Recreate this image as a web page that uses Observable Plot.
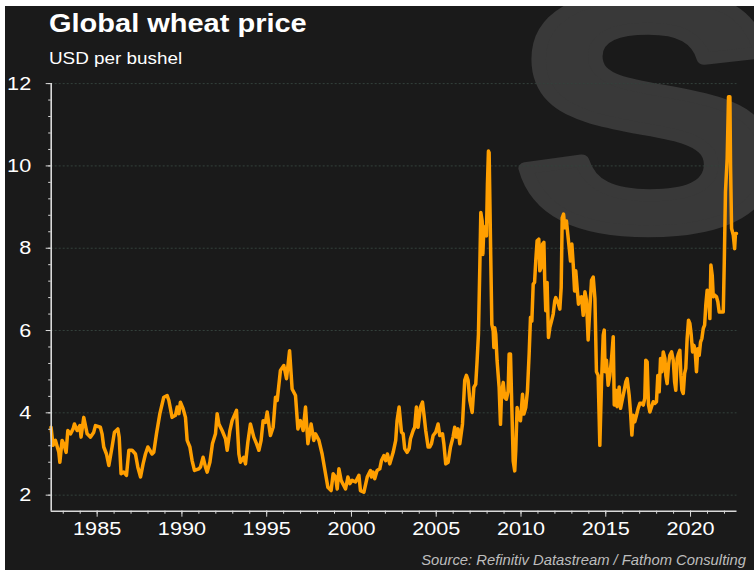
<!DOCTYPE html>
<html><head><meta charset="utf-8">
<script src="https://cdn.jsdelivr.net/npm/d3@7"></script>
<script src="https://cdn.jsdelivr.net/npm/@observablehq/plot@0.6"></script>
<style>
html,body{margin:0;padding:0;background:#fff;overflow:hidden;width:754px;height:570px;}
#wrap{position:absolute;left:5px;top:6px;width:749px;height:564px;background:#1a1a1a;overflow:hidden;}
#wrap svg{position:absolute;left:0;top:0;}
</style></head><body>
<div id="wrap">
<svg id="bg" width="749" height="564" font-family="'Liberation Sans', Arial, sans-serif">
  <text transform="translate(509,222) scale(1.21,1)" font-size="334" font-weight="bold" fill="#393939" stroke="#393939" stroke-width="12" stroke-linejoin="round">S</text>
  <text transform="translate(44,25.7) scale(1.16,1)" font-size="25" font-weight="bold" fill="#ffffff">Global wheat price</text>
  <text transform="translate(44,58.3) scale(1.18,1)" font-size="16" fill="#ffffff">USD per bushel</text>
  <text x="741" y="559" text-anchor="end" font-size="14.8" font-style="italic" fill="#bdbdbd">Source: Refinitiv Datastream / Fathom Consulting</text>
</svg>
</div>
<script>
const years = [
1982.28,1982.40,1982.54,1982.74,1982.80,1982.93,1983.03,1983.17,1983.27,1983.43,1983.58,1983.66,1983.82,1983.98,
1984.05,1984.21,1984.41,1984.61,1984.80,1984.90,1985.19,1985.29,1985.39,1985.55,1985.69,1985.88,1986.02,1986.22,
1986.30,1986.41,1986.57,1986.73,1986.87,1987.06,1987.26,1987.40,1987.56,1987.71,1987.85,1987.99,1988.24,1988.34,
1988.50,1988.70,1988.93,1989.13,1989.23,1989.42,1989.62,1989.72,1989.82,1989.91,1990.07,1990.21,1990.31,1990.47,
1990.60,1990.74,1991.00,1991.09,1991.25,1991.39,1991.49,1991.65,1991.80,1991.98,1992.08,1992.18,1992.37,1992.57,
1992.67,1992.83,1992.96,1993.22,1993.36,1993.45,1993.65,1993.75,1993.89,1994.04,1994.24,1994.40,1994.54,1994.67,
1994.79,1994.93,1995.03,1995.15,1995.22,1995.38,1995.52,1995.62,1995.81,1996.01,1996.17,1996.35,1996.50,1996.70,
1996.84,1996.99,1997.15,1997.29,1997.43,1997.62,1997.78,1997.88,1998.08,1998.27,1998.47,1998.61,1998.80,1998.92,
1999.06,1999.16,1999.26,1999.39,1999.65,1999.79,1999.91,2000.04,2000.24,2000.44,2000.53,2000.73,2000.93,2001.12,
2001.18,2001.28,2001.37,2001.51,2001.67,2001.77,2001.91,2002.02,2002.12,2002.26,2002.46,2002.61,2002.69,2002.81,
2002.95,2003.05,2003.14,2003.28,2003.40,2003.48,2003.64,2003.73,2003.83,2003.93,2004.07,2004.19,2004.27,2004.38,
2004.52,2004.62,2004.72,2004.82,2004.97,2005.11,2005.21,2005.37,2005.45,2005.56,2005.70,2005.84,2005.99,2006.09,
2006.19,2006.29,2006.39,2006.55,2006.68,2006.78,2006.88,2006.98,2007.12,2007.22,2007.33,2007.41,2007.49,2007.57,
2007.63,2007.71,2007.75,2007.81,2007.86,2007.92,2007.96,2008.02,2008.08,2008.12,2008.20,2008.28,2008.36,2008.40,
2008.45,2008.51,2008.59,2008.71,2008.79,2008.85,2008.95,2009.04,2009.14,2009.24,2009.30,2009.38,2009.46,2009.54,
2009.63,2009.69,2009.77,2009.87,2009.97,2010.09,2010.17,2010.28,2010.38,2010.48,2010.56,2010.64,2010.72,2010.80,
2010.87,2010.95,2011.05,2011.11,2011.19,2011.27,2011.35,2011.40,2011.46,2011.54,2011.62,2011.70,2011.80,2011.90,
2011.99,2012.05,2012.13,2012.21,2012.29,2012.37,2012.43,2012.51,2012.58,2012.68,2012.76,2012.84,2012.92,2013.00,
2013.08,2013.16,2013.23,2013.31,2013.39,2013.47,2013.57,2013.67,2013.77,2013.86,2013.96,2014.06,2014.16,2014.26,
2014.36,2014.45,2014.55,2014.65,2014.75,2014.85,2014.91,2014.96,2015.04,2015.14,2015.24,2015.34,2015.44,2015.50,
2015.59,2015.67,2015.79,2015.87,2015.99,2016.07,2016.18,2016.26,2016.38,2016.46,2016.54,2016.62,2016.71,2016.81,
2016.91,2017.01,2017.11,2017.21,2017.30,2017.36,2017.44,2017.52,2017.60,2017.70,2017.80,2017.89,2017.99,2018.07,
2018.15,2018.23,2018.31,2018.39,2018.49,2018.54,2018.62,2018.70,2018.78,2018.88,2018.98,2019.06,2019.13,2019.21,
2019.29,2019.37,2019.43,2019.49,2019.57,2019.65,2019.72,2019.80,2019.88,2019.96,2020.04,2020.12,2020.20,2020.27,
2020.35,2020.43,2020.51,2020.59,2020.67,2020.75,2020.83,2020.90,2020.98,2021.06,2021.14,2021.20,2021.28,2021.34,
2021.43,2021.53,2021.61,2021.69,2021.81,2021.93,2021.99,2022.06,2022.16,2022.24,2022.32,2022.36,2022.42,2022.52,
2022.60,2022.65,2022.71
];
const prices = [
3.65,3.21,3.33,3.04,2.80,3.33,3.25,3.04,3.57,3.49,3.61,3.73,3.57,3.69,
3.41,3.89,3.49,3.41,3.53,3.69,3.65,3.49,3.17,3.00,2.72,3.17,3.53,3.61,
3.41,2.52,2.56,2.48,3.09,3.09,3.00,2.68,2.44,2.76,3.00,3.17,3.00,3.04,
3.49,3.98,4.38,4.42,4.30,3.89,3.94,4.14,3.98,4.26,4.10,3.89,3.33,3.17,
2.84,2.60,2.64,2.68,2.92,2.68,2.56,2.80,3.25,3.49,3.98,3.73,3.57,3.37,
3.09,3.57,3.81,4.06,3.00,2.80,2.92,2.76,3.29,3.73,3.41,3.25,3.09,3.33,
3.81,3.77,4.02,3.65,3.45,3.65,4.38,4.30,5.03,5.15,4.83,5.51,4.58,4.42,
3.61,3.81,3.57,4.14,3.25,3.73,3.33,3.49,3.33,3.00,2.52,2.19,2.11,2.52,
2.44,2.15,2.64,2.36,2.15,2.44,2.28,2.36,2.32,2.48,2.11,2.07,2.44,2.60,
2.44,2.56,2.40,2.60,2.64,2.84,2.96,2.84,3.00,2.76,3.04,3.33,3.81,4.14,
3.53,3.49,3.13,3.04,3.13,3.37,3.57,3.65,4.14,3.65,4.14,4.26,3.98,3.57,
3.17,3.17,3.25,3.45,3.53,3.73,3.45,3.49,3.25,2.76,2.80,3.17,3.41,3.65,
3.41,3.61,3.25,3.73,4.79,4.91,4.79,4.30,4.01,4.62,4.70,5.26,5.91,7.53,
8.87,8.66,7.85,8.50,8.30,8.54,8.30,9.55,10.36,10.32,8.18,6.15,5.99,5.59,
6.07,5.91,5.26,4.62,3.72,4.45,4.74,4.37,4.33,4.53,5.43,5.43,4.13,2.83,
2.59,3.08,4.13,3.85,3.81,4.45,3.97,4.13,4.53,5.43,6.32,6.23,7.13,7.17,
7.69,8.18,8.22,7.45,7.53,8.10,8.14,7.21,6.48,7.17,5.83,6.07,6.23,6.40,
6.72,6.80,6.72,6.64,6.52,7.04,8.74,8.83,8.50,8.66,8.34,8.02,7.69,8.10,
7.61,6.96,7.45,7.04,6.64,6.80,6.82,6.37,6.94,6.74,5.77,6.53,7.22,7.30,
6.78,5.00,4.91,3.21,4.75,5.89,6.01,5.00,5.28,4.67,4.91,5.32,5.85,4.19,
4.55,4.15,4.63,4.11,4.35,4.51,4.75,4.83,4.43,4.02,3.46,3.94,3.78,3.94,
4.11,4.23,4.23,4.19,4.35,5.28,5.24,4.19,4.02,4.15,4.27,4.23,4.27,4.91,
4.51,5.32,5.00,5.48,5.32,4.91,4.71,5.16,5.40,5.48,5.28,4.75,4.55,5.32,
5.44,5.52,4.91,4.55,4.47,4.96,5.08,5.81,6.25,6.17,5.89,5.48,5.64,5.52,
5.00,5.56,5.40,5.72,5.81,6.05,6.13,6.62,6.98,6.86,6.29,7.59,7.34,6.82,
6.86,6.82,6.70,6.45,6.45,6.45,7.67,9.37,10.18,11.68,11.68,10.00,8.48,8.32,
7.99,8.36,8.36
];
const xMajor = [1985, 1990, 1995, 2000, 2005, 2010, 2015, 2020];
const xMinor = d3.range(1983, 2023);
const yMajor = [2, 4, 6, 8, 10, 12];
const yMinor = d3.range(0, 26).map(i => 2 + i * 0.4);
const xDomain = [1982.29, 2022.74];
const yDomain = [1.61, 12];

const data = years.map((y, i) => ({year: y, price: prices[i]}));
const axisColor = "#d9d9d9";

const chart = Plot.plot({
  width: 749, height: 564,
  marginLeft: 45.7, marginRight: 17.5, marginTop: 77.1, marginBottom: 59.3,
  style: {background: "transparent", color: "#ffffff", fontFamily: "'Liberation Sans', Arial, sans-serif", fontSize: "19px", overflow: "visible"},
  x: {domain: xDomain},
  y: {domain: yDomain},
  marks: [
    Plot.gridY(yMajor, {stroke: "#34423c", strokeOpacity: 1, strokeDasharray: "2,2", strokeWidth: 1}),
    Plot.line(data, {x: "year", y: "price", stroke: "#ff9f00", strokeWidth: 3.5, strokeLinejoin: "round", strokeLinecap: "round"}),
    Plot.axisX(xMinor, {tickSize: 3, tickFormat: () => "", stroke: axisColor, label: null}),
    Plot.axisX(xMajor, {tickSize: 6, tickPadding: 4, tickFormat: d => String(d), stroke: axisColor, fill: "#ffffff", fontSize: 19, label: null}),
    Plot.axisY(yMinor, {tickSize: 2.5, tickFormat: () => "", stroke: axisColor, label: null}),
    Plot.axisY(yMajor, {tickSize: 5, tickPadding: 15, tickFormat: d => String(d), stroke: axisColor, fill: "#ffffff", fontSize: 19, label: null}),
    Plot.ruleX([xDomain[0]], {y1: yDomain[0], y2: yDomain[1], stroke: axisColor, strokeWidth: 1.6}),
    Plot.ruleY([yDomain[0]], {x1: xDomain[0], x2: xDomain[1], stroke: axisColor, strokeWidth: 1.6})
  ]
});
document.getElementById("wrap").appendChild(chart);

// horizontally stretch tick labels like the reference
chart.querySelectorAll('g[aria-label$="tick label"] text').forEach(t => {
  const tr = t.getAttribute("transform");
  if (tr) t.setAttribute("transform", tr + " scale(1.14,1)");
});
</script>
</body></html>
